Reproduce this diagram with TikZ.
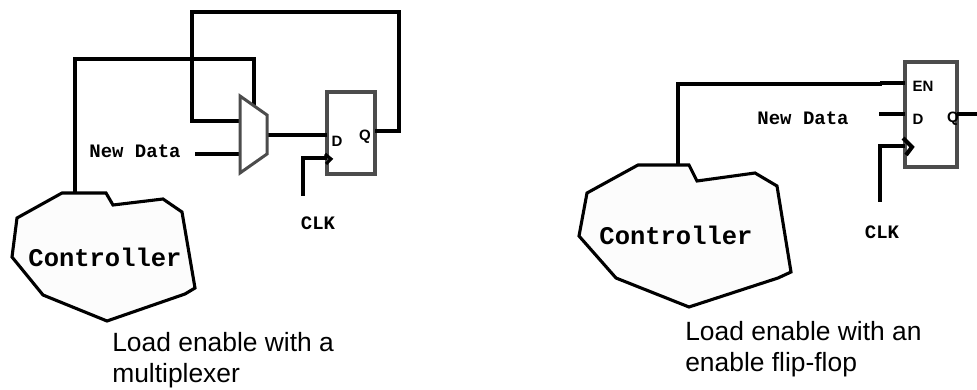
\documentclass[tikz,border=0pt]{standalone}
\usepackage{fontspec}
\setmainfont{Liberation Sans}
\setmonofont{Liberation Mono}
\usetikzlibrary{positioning}

\begin{document}
\begin{tikzpicture}[x=1pt,y=-1pt,semithick,
                        wire/.style={draw=black, line width=4.1pt},
                        thinwire/.style={draw=black, line width=3.1pt},
                        blobline/.style={draw=black, fill=black!1, line width=3.1pt},
                        regbox/.style={rectangle, draw=black!70, fill=white, line width=3.1pt, inner sep=0pt},
                        muxline/.style={draw=black!70, fill=white, line width=3pt},
                        monolabel/.style={font=\ttfamily\bfseries\fontsize{19}{19}\selectfont, inner sep=0pt},
                        ctrllabel/.style={font=\ttfamily\bfseries\fontsize{25.5}{25.5}\selectfont, inner sep=0pt},
                        pinlabel/.style={font=\bfseries\fontsize{15}{15}\selectfont, inner sep=0pt},
                        caption/.style={font=\fontsize{26.4}{31.5}\selectfont, align=left, anchor=north west, inner sep=0pt}]
      \useasboundingbox (0,0) rectangle (977,390);

      % left: load enable through a mux
      \coordinate (M1) at (240,96);
      \coordinate (M2) at (267,115);
      \coordinate (M3) at (267,154);
      \coordinate (M4) at (240,173);
      \coordinate (Mtop) at (254,106);
      \coordinate (Min0) at (240,121);
      \coordinate (Min1) at (240,154);
      \coordinate (Mout) at (267,135);
      \coordinate (Ltap) at (75,194);
      \coordinate (Lnew) at (195,154);
      \coordinate (Lclk) at (303,196);

      \node[regbox, minimum width=48pt, minimum height=82pt] (FFL) at (351,133) {};
      \coordinate (FFLd) at (327,135);
      \coordinate (FFLc) at (327,158);
      \coordinate (FFLq) at (375,131);

      \draw[wire] (Ltap) -- (75,59) -- (254,59) -- (Mtop);
      \draw[wire] (FFLq) -- (399,131) -- (399,12) -- (192,12) -- (192,121) -- (Min0);
      \draw[wire] (Lnew) -- (Min1);
      \draw[thinwire] (Mout) -- (FFLd);
      \draw[wire] (Lclk) -- (303,158) -- (FFLc);
      \draw[muxline] (M1) -- (M2) -- (M3) -- (M4) -- cycle;
      \draw[thinwire] (325,154) -- (331,159) -- (326,164);

      \draw[blobline] (62,193) -- (106,193) -- (113,205) -- (163,199) -- (182,212) -- (195,288)
                      -- (185,294) -- (107,321) -- (43,295) -- (12,257) -- (17,218) -- cycle;

      \node[ctrllabel] (CL) at (105,257) {Controller};
      \node[monolabel] (NL) at (135,151) {New Data};
      \node[monolabel] (KL) at (318,223) {CLK};
      \node[pinlabel] (DL) at (337,141) {D};
      \node[pinlabel] (QL) at (365,137) {Q};
      \node[caption] (TL) at (112,332) {Load enable with a\\multiplexer};

      % right: load enable in the flip-flop
      \coordinate (Rtap) at (678,166);
      \coordinate (Rnew) at (879,114);
      \coordinate (Rclk) at (880,202);
      \coordinate (Rq) at (977,114);

      \node[regbox, minimum width=52pt, minimum height=105pt] (FFR) at (931,114.5) {};
      \coordinate (FFRe) at (905,83);
      \coordinate (FFRd) at (905,114);
      \coordinate (FFRc) at (905,146);
      \coordinate (FFRq) at (957,114);

      \draw[wire] (Rtap) -- (678,84) -- (882,84);
      \draw[wire] (880,83) -- (FFRe);
      \draw[thinwire] (Rnew) -- (FFRd);
      \draw[wire] (Rclk) -- (880,146) -- (FFRc);
      \draw[thinwire] (FFRq) -- (Rq);
      \draw[wire] (903,138) -- (912,147) -- (906,155);

      \draw[blobline] (638,165) -- (689,165) -- (697,181) -- (755,173) -- (777,186) -- (791,272)
                      -- (778,278) -- (689,307) -- (616,278) -- (579,236) -- (587,193) -- cycle;

      \node[ctrllabel] (CR) at (676,235) {Controller};
      \node[monolabel] (NR) at (803,118) {New Data};
      \node[monolabel] (KR) at (882,232) {CLK};
      \node[pinlabel] (ER) at (923,86) {EN};
      \node[pinlabel] (DR) at (918,119) {D};
      \node[pinlabel] (QR) at (953,119) {Q};
      \node[caption] (TR) at (685,321) {Load enable with an\\enable flip-flop};
    \end{tikzpicture}
\end{document}
